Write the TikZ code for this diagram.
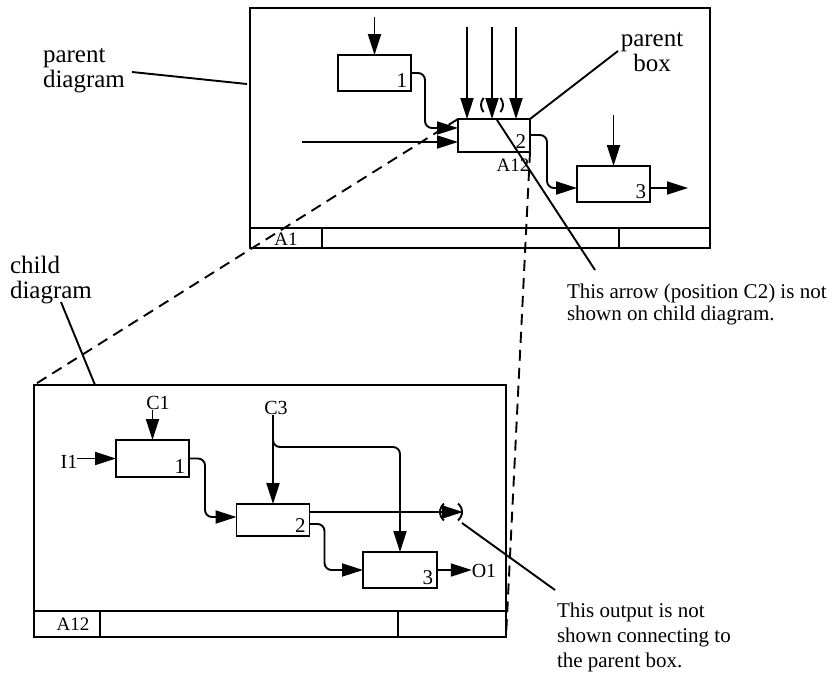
\documentclass[tikz,border=0pt]{standalone}
\usepackage{fontspec}
\setmainfont{Liberation Serif}
\usetikzlibrary{arrows.meta,calc}
\begin{document}
\begin{tikzpicture}[x=1pt,y=-1pt,
  every node/.style={inner sep=0pt, outer sep=0pt},
  ln/.style={line width=1.9pt},
  frm/.style={draw, line width=1.9pt, rectangle},
  act/.style={draw, line width=1.9pt, rectangle},
  flow/.style={line width=1.9pt, rounded corners=7pt, -{Triangle[length=21pt,width=13pt]}},
  dsh/.style={line width=1.9pt, dash pattern=on 11pt off 7pt},
  lbl/.style={font=\fontsize{20}{22}\selectfont},
  sml/.style={font=\fontsize{19}{22}\selectfont},
  big/.style={font=\fontsize{25}{25}\selectfont, align=left},
  note/.style={font=\fontsize{21}{22}\selectfont, align=left},
  num/.style={font=\fontsize{21}{22}\selectfont, anchor=base east},
]
\useasboundingbox (0,0) rectangle (834,675);

% ---------- parent diagram ----------
\node[frm, minimum width=460pt, minimum height=240pt] (pframe) at (480,128) {};
\draw[ln] (250,228) -- (710,228);
\draw[ln] (322,228) -- (322,248);
\draw[ln] (619,228) -- (619,248);
\node[sml] (pa1) at (286,239) {A1};

\node[act, minimum width=73pt, minimum height=36pt] (pb1) at (374.5,73) {};
\node[act, minimum width=72pt, minimum height=33pt] (pb2) at (494,135.5) {};
\node[act, minimum width=73pt, minimum height=36pt] (pb3) at (613.5,184) {};
\node[num] (pn1) at ([shift={(-4pt,4pt)}]pb1.south east) {1};
\node[num] (pn2) at ([shift={(-4pt,4pt)}]pb2.south east) {2};
\node[num] (pn3) at ([shift={(-4pt,4pt)}]pb3.south east) {3};
\node[sml] (pa12) at (513,165) {A12};

\coordinate (t1) at (374.5,17);
\draw[flow] (t1) -- (pb1.north);
\draw[flow] (pb1.east) -- ++(14,0) |- ([yshift=7.5pt]pb2.west);
\coordinate (in2) at (302,142);
\draw[flow] (in2) -- (in2 -| pb2.west);
\coordinate (k1) at (467,27);
\coordinate (k2) at (492,27);
\coordinate (k3) at (516,27);
\draw[flow] (k1) -- (k1 |- pb2.north);
\draw[flow] (k2) -- (k2 |- pb2.north);
\draw[flow] (k3) -- (k3 |- pb2.north);
\draw[ln] (492,105) +(140:11) arc[start angle=140, end angle=220, radius=11];
\draw[ln] (492,105) +(-40:11) arc[start angle=-40, end angle=40, radius=11];
\draw[flow] ([yshift=0.5pt]pb2.east) -- ++(17,0) |- ([yshift=-4pt]pb3.west);
\coordinate (t3) at (613.5,115);
\draw[flow] (t3) -- (pb3.north);
\coordinate (o3) at (688,188);
\draw[flow] (pb3.east |- o3) -- (o3);

% labels and callouts (parent)
\node[big, align=center, anchor=base] (pboxl) at (652,71) {parent\\box};
\coordinate (pbx) at (618,51);
\draw[ln] (pb2.north east) -- (pbx);
\coordinate (c2a) at (497,120);
\coordinate (c2b) at (595,270);
\draw[ln] (c2a) -- (c2b);
\node[note, anchor=base west] (c2note) at (567,320) {This arrow (position C2) is not\\shown on child diagram.};
\node[big, anchor=base west] (pdl) at (43,87) {parent\\diagram};
\coordinate (pdla) at (132,72);
\draw[ln] (pdla) -- (247,84);

% ---------- child diagram ----------
\node[frm, minimum width=472pt, minimum height=252pt] (cframe) at (270,511) {};
\draw[ln] (34,611) -- (506,611);
\draw[ln] (100,611) -- (100,637);
\draw[ln] (398,611) -- (398,637);
\node[sml] (ca12) at (73,624) {A12};

\node[act, minimum width=73pt, minimum height=37pt] (cb1) at (152.5,458.5) {};
\node[act, minimum width=73pt, minimum height=32pt] (cb2) at (273,520) {};
\node[act, minimum width=74pt, minimum height=36pt] (cb3) at (400,570) {};
\node[num] (cn1) at ([shift={(-4pt,4pt)}]cb1.south east) {1};
\node[num] (cn2) at ([shift={(-4pt,4pt)}]cb2.south east) {2};
\node[num] (cn3) at ([shift={(-4pt,4pt)}]cb3.south east) {3};

\node[lbl] (c1) at (158,403) {C1};
\draw[flow] (c1.south -| cb1.north) -- (cb1.north);
\node[lbl] (i1) at (69,462) {I1};
\draw[flow] (i1.east |- cb1.west) -- (cb1.west);
\draw[flow] (cb1.east) -- ++(16,0) |- ([yshift=3pt]cb2.west);
\node[lbl] (c3) at (276,408) {C3};
\draw[flow] (c3.south -| cb2.north) -- (cb2.north);
\coordinate (br) at (273,432);
\coordinate (brc) at (400,447);
\draw[flow] (br) |- (brc) -- (cb3.north);
\coordinate (tun) at (463,512);
\draw[flow] ([yshift=8pt]cb2.east) -- (tun);
\draw[ln] (451,512) +(130:11) arc[start angle=130, end angle=230, radius=11];
\draw[ln] (451,512) +(-50:11) arc[start angle=-50, end angle=50, radius=11];
\draw[flow] ([yshift=-4pt]cb2.east) -- ++(15,0) |- (cb3.west);
\node[lbl] (o1) at (484,571) {O1};
\draw[flow] (cb3.east) -- (cb3.east -| o1.west);

\coordinate (cl1) at (462,523);
\coordinate (cl2) at (555,590);
\draw[ln] (cl1) -- (cl2);
\node[note, anchor=base west, font=\fontsize{21}{25}\selectfont] (onote) at (557,667) {This output is not\\shown connecting to\\the parent box.};
\node[big, anchor=base west] (cdl) at (10,298) {child\\diagram};
\coordinate (cdla) at (61,302);
\draw[ln] (cdla) -- (95,385);

% ---------- dashed links ----------
\draw[dsh] (pb2.north west) -- (cframe.north west);
\draw[dsh] (pb2.south east) -- (cframe.south east);
\end{tikzpicture}
\end{document}
